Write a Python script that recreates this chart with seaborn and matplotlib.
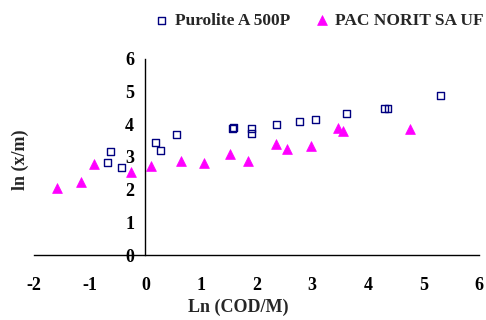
import pandas as pd
import matplotlib.pyplot as plt
import seaborn as sns

# ln(COD/M) and ln(x/m) for each adsorbent
purolite_x = [-0.68, -0.63, -0.43, 0.18, 0.27, 0.56, 1.56, 1.58, 1.91, 1.91, 2.36, 2.77, 3.06, 3.61, 4.30, 4.36, 5.31]
purolite_y = [2.84, 3.17, 2.68, 3.45, 3.20, 3.69, 3.87, 3.90, 3.87, 3.72, 4.00, 4.08, 4.15, 4.33, 4.48, 4.48, 4.88]
pac_x = [-1.58, -1.15, -0.93, -0.25, 0.11, 0.65, 1.05, 1.53, 1.84, 2.35, 2.54, 2.97, 3.46, 3.56, 4.75]
pac_y = [2.05, 2.23, 2.78, 2.54, 2.72, 2.87, 2.81, 3.09, 2.87, 3.39, 3.23, 3.33, 3.88, 3.79, 3.85]
series_names = ['Purolite A 500P', 'PAC NORIT SA UF']
x_ticks = [-2, -1, 0, 1, 2, 3, 4, 5, 6]
y_ticks = [0, 1, 2, 3, 4, 5, 6]

df = pd.DataFrame({
    'x': purolite_x + pac_x,
    'y': purolite_y + pac_y,
    'Series': [series_names[0]] * len(purolite_x) + [series_names[1]] * len(pac_x),
})

sns.set_style('white')
plt.rcParams['font.family'] = ['Liberation Serif', 'DejaVu Serif']
plt.rcParams['font.weight'] = 'bold'
plt.rcParams['axes.unicode_minus'] = False

fig = plt.figure(figsize=(4.86, 3.2), dpi=100)
ax = fig.add_axes([0.070, 0.203, 0.916, 0.613])

sns.scatterplot(data=df[df['Series'] == series_names[0]], x='x', y='y', ax=ax,
                marker='s', s=24, facecolor='none', edgecolor='#000080', linewidth=1.0,
                label=series_names[0])
sns.scatterplot(data=df[df['Series'] == series_names[1]], x='x', y='y', ax=ax,
                marker='^', s=50, color='#FF00FF', edgecolor='#FF00FF', linewidth=0.5,
                label=series_names[1])

ax.set_xlim(-2, 6)
ax.set_ylim(0, 6)
ax.set_xticks(x_ticks)
ax.set_yticks(y_ticks)
ax.spines['left'].set_position(('data', 0))
ax.spines['top'].set_visible(False)
ax.spines['right'].set_visible(False)
for sp in ['left', 'bottom']:
    ax.spines[sp].set_color('black')
    ax.spines[sp].set_linewidth(1.0)
ax.tick_params(axis='both', direction='out', length=5, width=1.0, colors='black',
               labelsize=13, pad=3)
ax.tick_params(axis='x', pad=11)
for lab in ax.get_xticklabels() + ax.get_yticklabels():
    lab.set_fontweight('bold')

ax.set_xlabel('')
ax.set_ylabel('')
fig.text(0.49, 0.04, 'Ln (COD/M)', ha='center', va='center', fontsize=13, fontweight='bold')
fig.text(0.042, 0.50, 'ln (x/m)', ha='center', va='center', rotation=90, fontsize=13, fontweight='bold')

ax.get_legend().remove()
h, l = ax.get_legend_handles_labels()
fig.legend(h, l, loc='center', bbox_to_anchor=(0.655, 0.935), ncol=2, frameon=False,
           prop={'size': 12.5, 'weight': 'bold'}, handletextpad=0.3, columnspacing=1.3,
           handlelength=1.0)

plt.savefig('out.png', dpi=100)
plt.close()
